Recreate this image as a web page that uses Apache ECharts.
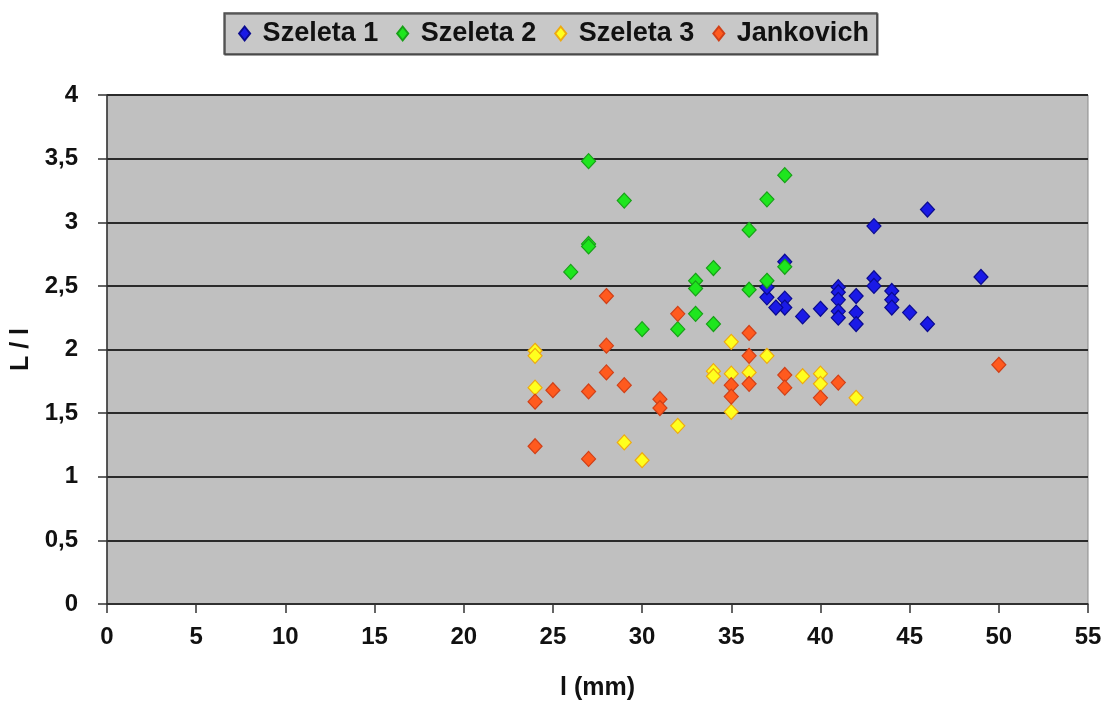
<!DOCTYPE html>
<html>
<head>
<meta charset="utf-8">
<script src="https://cdn.jsdelivr.net/npm/echarts@6/dist/echarts.min.js"></script>
<style>
html,body{margin:0;padding:0;background:#fff;}
#chart{width:1107px;height:706px;}
</style>
</head>
<body>
<div id="chart"></div>
<script>
const seriesNames = ['Szeleta 1', 'Szeleta 2', 'Szeleta 3', 'Jankovich'];
const xTicks = [0, 5, 10, 15, 20, 25, 30, 35, 40, 45, 50, 55];
const yTicks = [0, 0.5, 1, 1.5, 2, 2.5, 3, 3.5, 4];

const szeleta1 = [
  [38, 2.69], [49, 2.57], [43, 2.56], [43, 2.50], [41, 2.49], [41, 2.45], [41, 2.39],
  [41, 2.30], [41, 2.25], [42, 2.42], [42, 2.29], [42, 2.20], [44, 2.46], [44, 2.39],
  [44, 2.33], [45, 2.29], [46, 2.20], [46, 3.10], [43, 2.97], [40, 2.32], [39, 2.26],
  [38, 2.40], [38, 2.33], [37.5, 2.33], [37, 2.41], [37, 2.49]
];
const szeleta2 = [
  [27, 3.48], [29, 3.17], [27, 2.83], [27, 2.81], [26, 2.61], [38, 3.37], [37, 3.18],
  [36, 2.94], [38, 2.65], [37, 2.54], [36, 2.47], [34, 2.64], [33, 2.54], [33, 2.48],
  [33, 2.28], [34, 2.20], [32, 2.16], [30, 2.16]
];
const szeleta3 = [
  [24, 1.99], [24, 1.95], [24, 1.70], [29, 1.27], [30, 1.13], [32, 1.40], [34, 1.83],
  [34, 1.79], [35, 2.06], [35, 1.81], [35, 1.51], [36, 1.82], [37, 1.95], [39, 1.79],
  [40, 1.81], [40, 1.73], [42, 1.62]
];
const jankovich = [
  [24, 1.59], [24, 1.24], [25, 1.68], [27, 1.67], [27, 1.14], [28, 2.42], [28, 2.03],
  [28, 1.82], [29, 1.72], [31, 1.61], [31, 1.54], [32, 2.28], [35, 1.72], [35, 1.63],
  [36, 2.13], [36, 1.95], [36, 1.73], [38, 1.80], [38, 1.70], [40, 1.62], [41, 1.74],
  [50, 1.88]
];

const fills = ['#1a1ae6', '#1ee61e', '#ffff1e', '#ff5a1e'];
const borders = ['#0a0a90', '#18a018', '#eeaa10', '#d04018'];
const allData = [szeleta1, szeleta2, szeleta3, jankovich];

const FONT = '"Liberation Sans", Arial, sans-serif';

const chart = echarts.init(document.getElementById('chart'));
chart.setOption({
  backgroundColor: '#ffffff',
  animation: false,
  legend: {
    top: 13,
    left: 'center',
    data: seriesNames,
    formatter: n => ' ' + n,
    backgroundColor: '#c8c8c8',
    borderColor: '#4a4a4a',
    borderWidth: 1.5,
    borderRadius: 0,
    padding: [7, 8, 7, 14],
    itemGap: 18,
    itemWidth: 11,
    itemHeight: 14,
    textStyle: { fontFamily: FONT, fontSize: 27, fontWeight: 'bold', color: '#111' },
    shadowColor: 'rgba(0,0,0,0.5)',
    shadowOffsetX: 1,
    shadowOffsetY: 1,
    shadowBlur: 0
  },
  grid: {
    left: 107, right: 19, top: 95, bottom: 100,
    show: true,
    backgroundColor: '#c0c0c0',
    borderColor: '#8a8a8a',
    borderWidth: 1
  },
  xAxis: {
    type: 'value',
    min: xTicks[0], max: xTicks[xTicks.length - 1], interval: 5,
    name: 'l (mm)',
    nameLocation: 'middle',
    nameGap: 72,
    nameTextStyle: { fontFamily: FONT, fontSize: 25, fontWeight: 'bold', color: '#111' },
    axisLine: { show: true, onZero: false, lineStyle: { color: '#333', width: 1.5 } },
    axisTick: { show: true, inside: false, length: 9, lineStyle: { color: '#333', width: 1.5 } },
    axisLabel: { fontFamily: FONT, fontSize: 24, fontWeight: 'bold', color: '#111', margin: 21 },
    splitLine: { show: false }
  },
  yAxis: {
    type: 'value',
    min: yTicks[0], max: yTicks[yTicks.length - 1], interval: 0.5,
    name: 'L / l',
    nameLocation: 'middle',
    nameGap: 73,
    nameRotate: 90,
    nameTextStyle: { fontFamily: FONT, fontSize: 25, fontWeight: 'bold', color: '#111' },
    axisLine: { show: true, lineStyle: { color: '#333', width: 1.5 } },
    axisTick: { show: true, inside: false, length: 9, lineStyle: { color: '#333', width: 1.5 } },
    axisLabel: {
      fontFamily: FONT, fontSize: 24, fontWeight: 'bold', color: '#111', margin: 29,
      formatter: v => String(v).replace('.', ',')
    },
    splitLine: { show: true, lineStyle: { color: '#2a2a2a', width: 1.8 } }
  },
  series: seriesNames.map((name, i) => ({
    name: name,
    type: 'scatter',
    symbol: 'diamond',
    symbolSize: [14, 15],
    data: allData[i],
    itemStyle: { color: fills[i], borderColor: borders[i], borderWidth: 1.2, opacity: 1 },
    emphasis: { disabled: true }
  }))
});
</script>
</body>
</html>
